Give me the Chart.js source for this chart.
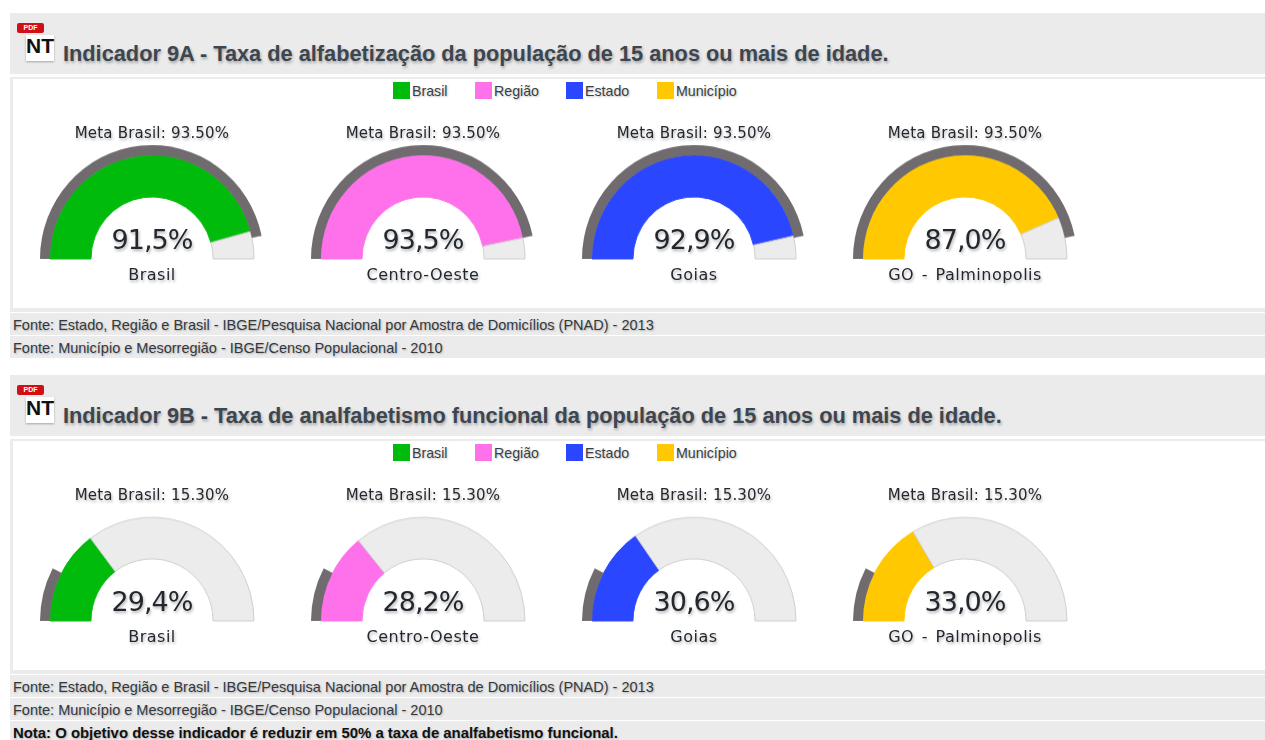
<!DOCTYPE html>
<html>
<head>
<meta charset="utf-8">
<title>Indicador 9</title>
<script src="https://cdn.jsdelivr.net/npm/chart.js@4"></script>
<style>
html, body { margin: 0; padding: 0; background: #fff; }
body { width: 1265px; height: 740px; position: relative; overflow: hidden; font-family: "Liberation Sans", Arial, sans-serif; filter: blur(0.4px); }
.band { position: absolute; left: 10px; right: 0; background: #ebebeb; }
.panel { position: absolute; left: 13px; right: 0; background: #fff; }
.title { position: absolute; left: 63px; font-weight: bold; font-size: 21.75px; color: #3d4650; text-shadow: 1px 2px 3px rgba(0,0,0,.3); white-space: nowrap; }
.fonte { position: absolute; left: 13px; font-size: 14.5px; color: #33383e; text-shadow: 1px 1px 2px rgba(0,0,0,.25); white-space: nowrap; }
.nota { font-weight: bold; font-size: 14.9px; color: #111; }
.pdf { position: absolute; left: 17px; width: 27px; height: 10px; background: #d01016; border-radius: 2px; color: #fff; font-size: 7px; font-weight: bold; line-height: 10px; text-align: center; }
.doc { position: absolute; left: 26px; width: 28px; height: 26px; background: #fff; box-shadow: 0 1px 2px rgba(0,0,0,.3); color: #111; font-size: 21px; font-weight: bold; line-height: 21px; text-align: center; }
.legend { position: absolute; font-size: 14.2px; color: #3a3f45; text-shadow: 1px 1px 2px rgba(0,0,0,.25); white-space: nowrap; }
.legend i { position: absolute; top: 0; width: 17px; height: 17px; }
.legend span { position: absolute; top: 1px; }
.gaugeText { position: absolute; width: 240px; text-align: center; font-family: "DejaVu Sans", Verdana, sans-serif; color: #23282f; white-space: nowrap; text-shadow: 1px 2px 3px rgba(0,0,0,.3); }
canvas { position: absolute; }
</style>
</head>
<body>
<script>
// dados
const places = ["Brasil", "Centro-Oeste", "Goias", "GO - Palminopolis"];
const legendLabels = ["Brasil", "Região", "Estado", "Município"];
const colors = ["#00bb0b", "#ff70eb", "#2b46ff", "#ffc800"];
const meta9A = 93.5;
const meta9B = 15.3;
const values9A = [91.5, 93.5, 92.9, 87.0];
const values9B = [29.4, 28.2, 30.6, 33.0];
const title9A = "Indicador 9A - Taxa de alfabetização da população de 15 anos ou mais de idade.";
const title9B = "Indicador 9B - Taxa de analfabetismo funcional da população de 15 anos ou mais de idade.";
const fonte1 = "Fonte: Estado, Região e Brasil - IBGE/Pesquisa Nacional por Amostra de Domicílios (PNAD) - 2013";
const fonte2 = "Fonte: Município e Mesorregião - IBGE/Censo Populacional - 2010";
const nota = "Nota: O objetivo desse indicador é reduzir em 50% a taxa de analfabetismo funcional.";

const centersX = [152, 423, 694, 965];
const legendX = [393, 475, 566, 657];

function add(cls, css, text) {
	var el = document.createElement("div");
	el.className = cls;
	el.style.cssText = css;
	if (text) el.textContent = text;
	document.body.appendChild(el);
	return el;
}

function drawGauge(cx, baseY, meta, value, color) {
	var canvas = document.createElement("canvas");
	canvas.width = 240;
	canvas.height = 124;
	document.body.appendChild(canvas);
	new Chart(canvas.getContext("2d"), {
		type: "doughnut",
		data: {
			datasets: [{
				data: [meta, 100 - meta],
				backgroundColor: ["#706b6e", "rgba(0,0,0,0)"],
				borderWidth: 0,
				weight: 10
			}, {
				data: [value, 100 - value],
				backgroundColor: [color, "#ececec"],
				borderColor: [color, "#cfcfcf"],
				borderWidth: 1,
				weight: 41
			}]
		},
		options: {
			responsive: false,
			animation: false,
			rotation: -90,
			circumference: 180,
			radius: 112,
			cutout: "54.5%",
			plugins: { legend: { display: false }, tooltip: { enabled: false } }
		}
	});
	// o original e um pouco mais alto que largo
	canvas.style.left = (cx - 120) + "px";
	canvas.style.top = (baseY - 120) + "px";
	canvas.style.width = "240px";
	canvas.style.height = "126px";
}

function drawPanel(top, title, meta, values, lastRows) {
	add("band", `top:${top}px;height:61px`);
	add("pdf", `top:${top + 10}px`, "PDF");
	add("doc", `top:${top + 22}px`, "NT");
	add("title", `top:${top + 28}px`, title);
	add("band", `top:${top + 64}px;height:235px`);
	add("panel", `top:${top + 66}px;height:229px`);

	legendLabels.forEach((label, i) => {
		var lg = add("legend", `left:${legendX[i]}px;top:${top + 69}px`);
		var box = document.createElement("i");
		box.style.background = colors[i];
		var txt = document.createElement("span");
		txt.style.left = "19px";
		txt.textContent = label;
		lg.appendChild(box);
		lg.appendChild(txt);
	});

	values.forEach((value, i) => {
		var cx = centersX[i];
		var baseY = top + 246;
		drawGauge(cx, baseY, meta, value, colors[i]);
		add("gaugeText", `left:${cx - 120}px;top:${top + 111}px;font-size:15px;letter-spacing:.2px`, `Meta Brasil: ${meta.toFixed(2)}%`);
		add("gaugeText", `left:${cx - 120}px;top:${top + 211}px;font-size:27px;letter-spacing:-1px`, value.toFixed(1).replace(".", ",") + "%");
		add("gaugeText", `left:${cx - 120}px;top:${top + 252}px;font-size:16px;letter-spacing:.5px;word-spacing:2px`, places[i]);
	});

	lastRows.forEach((row, i) => {
		var y = top + 300 + i * 23;
		add("band", `top:${y}px;height:22px`);
		add("fonte" + (i == 2 ? " nota" : ""), `top:${y + 4}px`, row);
	});
}

drawPanel(13, title9A, meta9A, values9A, [fonte1, fonte2]);
drawPanel(375, title9B, meta9B, values9B, [fonte1, fonte2, nota]);
</script>
</body>
</html>
